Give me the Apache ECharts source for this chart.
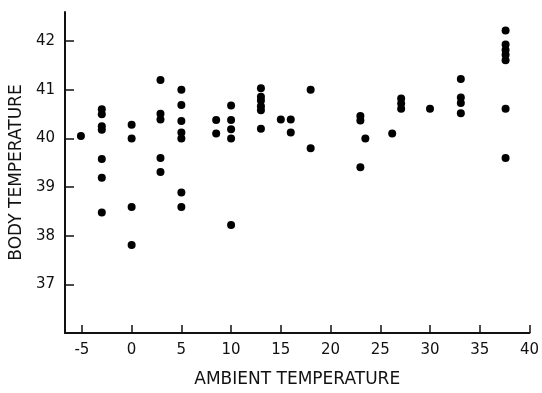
<!DOCTYPE html>
<html>
<head>
<meta charset="utf-8">
<script src="https://cdn.jsdelivr.net/npm/echarts@6/dist/echarts.min.js"></script>
<style>
html,body{margin:0;padding:0;background:#fff;}
#chart{width:542px;height:393px;}
</style>
</head>
<body>
<div id="chart"></div>
<script>
// Ambient temperature (x) and body temperature (y) for each observation
const ambientTemp = [
  -5.1,
  -3, -3, -3, -3, -3, -3, -3,
  0, 0, 0, 0,
  2.9, 2.9, 2.9, 2.9, 2.9,
  5, 5, 5, 5, 5, 5, 5,
  8.5, 8.5,
  10, 10, 10, 10, 10,
  13, 13, 13, 13, 13, 13,
  15, 16, 16,
  18, 18,
  23, 23, 23.5, 23,
  26.2,
  27.1, 27.1, 27.1,
  30,
  33.1, 33.1, 33.1, 33.1,
  37.6, 37.6, 37.6, 37.6, 37.6, 37.6, 37.6
];
const bodyTemp = [
  40.05,
  40.6, 40.5, 40.25, 40.18, 39.58, 39.19, 38.48,
  40.28, 40.0, 38.59, 37.81,
  41.2, 40.51, 40.39, 39.6, 39.31,
  41.0, 40.69, 40.36, 40.12, 40.0, 38.89, 38.59,
  40.38, 40.1,
  40.68, 40.38, 40.19, 40.0, 38.22,
  41.03, 40.86, 40.78, 40.66, 40.58, 40.2,
  40.39, 40.39, 40.12,
  41.0, 39.8,
  40.46, 40.37, 40.0, 39.41,
  40.1,
  40.82, 40.72, 40.61,
  40.61,
  41.22, 40.84, 40.73, 40.52,
  42.22, 41.93, 41.82, 41.72, 41.61, 40.61, 39.6
];
const xTicks = [-5, 0, 5, 10, 15, 20, 25, 30, 35, 40];
const yTicks = [37, 38, 39, 40, 41, 42];
const xTitle = 'AMBIENT TEMPERATURE';
const yTitle = 'BODY TEMPERATURE';

const points = ambientTemp.map((x, i) => [x, bodyTemp[i]]);
const font = 'DejaVu Sans';

const chart = echarts.init(document.getElementById('chart'), null, {renderer: 'canvas'});
chart.setOption({
  animation: false,
  backgroundColor: '#ffffff',
  grid: {left: 65, right: 12, top: 12, bottom: 54, containLabel: false},
  xAxis: {
    type: 'value',
    min: -6.7,
    max: 40,
    name: xTitle,
    nameLocation: 'middle',
    nameGap: 38,
    nameTextStyle: {color: '#111', fontSize: 17, fontFamily: font},
    axisLine: {show: true, onZero: false, lineStyle: {color: '#111', width: 2}},
    axisTick: {show: true, inside: true, length: 8, customValues: xTicks, lineStyle: {color: '#111', width: 1.5}},
    axisLabel: {customValues: xTicks, color: '#111', fontSize: 15, fontFamily: font, margin: 10},
    splitLine: {show: false}
  },
  yAxis: {
    type: 'value',
    min: 36,
    max: 42.6,
    name: yTitle,
    nameLocation: 'middle',
    nameGap: 40,
    nameRotate: 90,
    nameTextStyle: {color: '#111', fontSize: 17, fontFamily: font},
    axisLine: {show: true, onZero: false, lineStyle: {color: '#111', width: 2}},
    axisTick: {show: true, inside: true, length: 9, customValues: yTicks, lineStyle: {color: '#111', width: 1.5}},
    axisLabel: {customValues: yTicks, color: '#111', fontSize: 15, fontFamily: font, margin: 10},
    splitLine: {show: false}
  },
  series: [{
    type: 'scatter',
    data: points,
    symbol: 'circle',
    symbolSize: 8,
    itemStyle: {color: '#000', opacity: 1}
  }]
});
</script>
</body>
</html>
